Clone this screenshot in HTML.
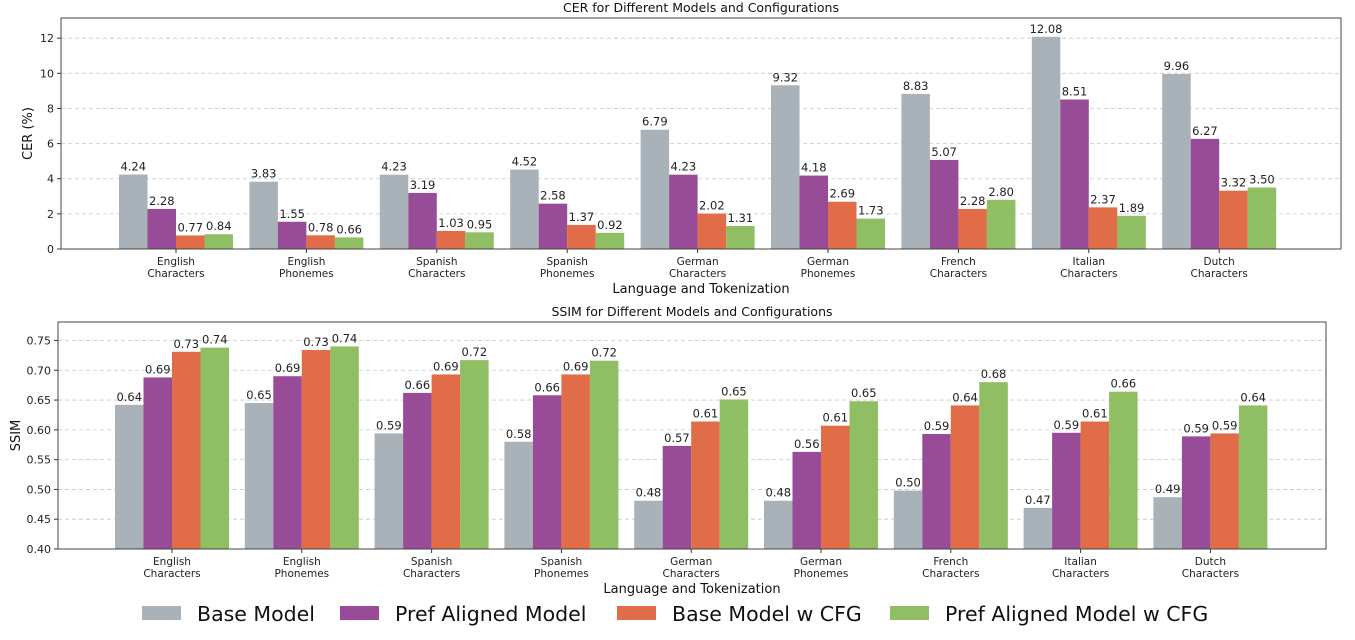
<!DOCTYPE html>
<html><head><meta charset="utf-8"><style>
body{margin:0;background:#fff;}
svg{display:block;font-family:"DejaVu Sans","Liberation Sans",sans-serif;}
</style></head><body>
<svg id="svg" width="1355" height="640"></svg>
<script>
const categories=["English\nCharacters","English\nPhonemes","Spanish\nCharacters","Spanish\nPhonemes","German\nCharacters","German\nPhonemes","French\nCharacters","Italian\nCharacters","Dutch\nCharacters"];
const seriesNames=["Base Model","Pref Aligned Model","Base Model w CFG","Pref Aligned Model w CFG"];
const cerBase=[4.24,3.83,4.23,4.52,6.79,9.32,8.83,12.08,9.96];
const cerPref=[2.28,1.55,3.19,2.58,4.23,4.18,5.07,8.51,6.27];
const cerBaseCfg=[0.77,0.78,1.03,1.37,2.02,2.69,2.28,2.37,3.32];
const cerPrefCfg=[0.84,0.66,0.95,0.92,1.31,1.73,2.80,1.89,3.50];
const ssimBase=[0.642,0.645,0.594,0.58,0.481,0.481,0.498,0.469,0.487];
const ssimPref=[0.688,0.69,0.662,0.658,0.573,0.563,0.593,0.595,0.589];
const ssimBaseCfg=[0.731,0.734,0.693,0.693,0.614,0.607,0.641,0.614,0.594];
const ssimPrefCfg=[0.738,0.74,0.717,0.716,0.651,0.648,0.68,0.664,0.641];
const cerTicks=[0,2,4,6,8,10,12];
const ssimTicks=[0.40,0.45,0.50,0.55,0.60,0.65,0.70,0.75];
const colors=["#a9b1b9","#984c97","#e06c48","#8fbe63"];
const NS="http://www.w3.org/2000/svg";
const svg=document.getElementById('svg');
function el(tag,attrs,parent){const e=document.createElementNS(NS,tag);for(const k in attrs)e.setAttribute(k,attrs[k]);(parent||svg).appendChild(e);return e;}
function txt(s,attrs,parent){const t=el('text',attrs,parent);t.textContent=s;return t;}

function drawPanel(cfg){
  const g=el('g',{});
  
  
  const y=v=>cfg.bottom-(v-cfg.ymin)/(cfg.ymax-cfg.ymin)*(cfg.bottom-cfg.top);
  const x=i=>cfg.c0+i*cfg.step;
  cfg.ticks.forEach(t=>{
    const gl=el('line',{x1:cfg.left,x2:cfg.right,y1:y(t),y2:y(t),stroke:'#c8c8c8','stroke-width':0.8,'stroke-dasharray':'4,3'},g);
    
    
    el('line',{x1:cfg.left-4,x2:cfg.left,y1:y(t),y2:y(t),stroke:'#333'},g);
    const tl=txt(cfg.fmt(t),{x:cfg.left-7,y:y(t)+4,'text-anchor':'end','font-size':11,fill:'#222'},g);
    
    
  });
  const bw=cfg.bw;
  cfg.series.forEach((s,si)=>{
    s.forEach((v,i)=>{
      const bx=x(i)+(si-2)*bw;
      const r=el('rect',{x:bx,y:y(v),width:bw,height:cfg.bottom-y(v),fill:colors[si]},g);
      
      
      const l=txt(cfg.fmt2(v),{x:bx+bw/2,y:y(v)-4,'text-anchor':'middle','font-size':11.5,fill:'#222'},g);
      
      
    });
  });
  categories.forEach((c,i)=>{
    el('line',{x1:x(i),x2:x(i),y1:cfg.bottom,y2:cfg.bottom+4,stroke:'#333'},g);
    c.split('\n').forEach((p,k)=>{
      const t=txt(p,{x:x(i),y:cfg.bottom+16+k*12,'text-anchor':'middle','font-size':10.5,fill:'#222'},g);
      
      
    });
  });
  el('rect',{x:cfg.left,y:cfg.top,width:cfg.right-cfg.left,height:cfg.bottom-cfg.top,fill:'none',stroke:'#444','stroke-width':1},g);
  const ti=txt(cfg.title,{x:(cfg.left+cfg.right)/2,y:cfg.top-6,'text-anchor':'middle','font-size':12.5,fill:'#111'},g);
  
  
  const xt=txt('Language and Tokenization',{x:(cfg.left+cfg.right)/2,y:cfg.bottom+44,'text-anchor':'middle','font-size':13,fill:'#111'},g);
  
  
  const yc=(cfg.top+cfg.bottom)/2;
  const yt=txt(cfg.ylabel,{x:cfg.ylx,y:yc,'text-anchor':'middle','font-size':13,fill:'#111',transform:`rotate(-90 ${cfg.ylx} ${yc})`},g);
  
  
}
drawPanel({name:'cer-chart',title:'CER for Different Models and Configurations',ylabel:'CER (%)',left:61,right:1341,top:18,bottom:249,ymin:0,ymax:13.15,ticks:cerTicks,c0:176,step:130.4,bw:28.5,
  series:[cerBase,cerPref,cerBaseCfg,cerPrefCfg],fmt:t=>String(t),fmt2:v=>v.toFixed(2),ylx:32});
drawPanel({name:'ssim-chart',title:'SSIM for Different Models and Configurations',ylabel:'SSIM',left:58,right:1326,top:322,bottom:549,ymin:0.40,ymax:0.781,ticks:ssimTicks,c0:172,step:129.8,bw:28.5,
  series:[ssimBase,ssimPref,ssimBaseCfg,ssimPrefCfg],fmt:t=>t.toFixed(2),fmt2:v=>v.toFixed(2),ylx:20});
const legX=[142,340,617,890];
const lg=el('g',{});


seriesNames.forEach((n,i)=>{
  const r=el('rect',{x:legX[i],y:606,width:39,height:14,fill:colors[i]},lg);
  
  
  const t=txt(n,{x:legX[i]+55,y:621,'font-size':20.5,fill:'#111'},lg);
  
  
});
</script>
</body></html>
